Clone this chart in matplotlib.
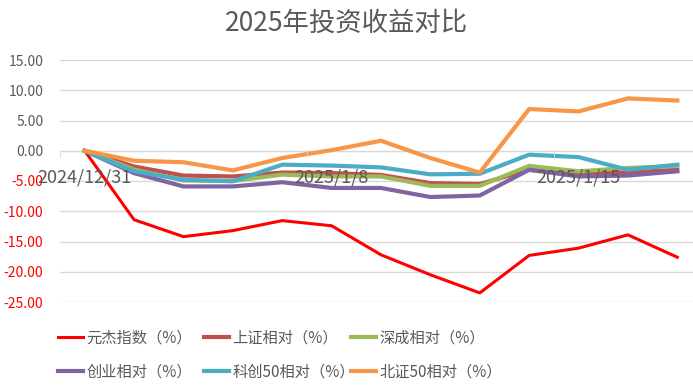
import numpy as np
import matplotlib
matplotlib.use("Agg")
import matplotlib.pyplot as plt

plt.rcParams['font.family'] = ['Noto Sans CJK SC', 'DejaVu Sans']

dates = ['2024/12/31', '2025/1/2', '2025/1/3', '2025/1/6', '2025/1/7', '2025/1/8', '2025/1/9',
         '2025/1/10', '2025/1/13', '2025/1/14', '2025/1/15', '2025/1/16', '2025/1/17']

yuanjie = [0, -11.4, -14.2, -13.2, -11.55, -12.4, -17.2, -20.5, -23.5, -17.3, -16.1, -13.9, -17.6]
shangzheng = [0, -2.6, -4.1, -4.25, -3.6, -3.7, -4.0, -5.35, -5.5, -3.15, -3.8, -3.6, -3.15]
shencheng = [0, -3.1, -4.9, -5.0, -3.95, -4.25, -4.25, -5.8, -5.8, -2.5, -3.4, -2.85, -2.5]
chuangye = [0, -3.7, -5.9, -5.9, -5.2, -6.15, -6.15, -7.65, -7.4, -3.15, -4.25, -4.1, -3.4]
kechuang50 = [0, -3.4, -4.8, -5.05, -2.3, -2.45, -2.75, -3.9, -3.8, -0.65, -1.05, -3.15, -2.3]
beizheng50 = [0, -1.65, -1.9, -3.25, -1.2, 0.1, 1.65, -1.2, -3.6, 6.9, 6.5, 8.65, 8.3]

names = ['元杰指数（%）', '上证相对（%）', '深成相对（%）', '创业相对（%）', '科创50相对（%）', '北证50相对（%）']
series = [yuanjie, shangzheng, shencheng, chuangye, kechuang50, beizheng50]
colors = ['#FF0000', '#C0504D', '#9BBB59', '#8064A2', '#4BACC6', '#F79646']
widths = [2.2, 3.0, 3.0, 3.0, 3.0, 3.0]

gray = '#595959'
grid = '#D9D9D9'

fig = plt.figure(figsize=(6.93, 3.92), dpi=100)
ax = fig.add_axes([60 / 693, 1 - 302 / 392, 642 / 693, 242 / 392])

x = np.arange(len(dates))
lines = []
for s, c, w, n in zip(series, colors, widths, names):
    ln, = ax.plot(x, s, color=c, lw=w, label=n, solid_joinstyle='round')
    lines.append(ln)

ax.set_xlim(-0.5, len(dates) - 0.5)
ax.set_ylim(-25, 15)
yt = np.arange(-25, 16, 5)
ax.set_yticks(yt)
ax.set_yticklabels(['%.2f' % v for v in yt], fontsize=10)
for lab, v in zip(ax.get_yticklabels(), yt):
    lab.set_color('#FF0000' if v < 0 else gray)
ax.tick_params(axis='y', length=0, pad=12)
ax.yaxis.grid(True, color=grid, lw=1)
ax.set_axisbelow(True)
ax.xaxis.set_zorder(5)  # date labels sit on top of the lines like in excel

for sp in ['top', 'right', 'left']:
    ax.spines[sp].set_visible(False)
ax.spines['bottom'].set_position(('data', 0))
ax.spines['bottom'].set_color(grid)
ax.spines['bottom'].set_zorder(0.5)

ax.set_xticks([0, 5, 10])
ax.set_xticklabels([dates[0], dates[5], dates[10]], fontsize=13, color=gray)
ax.tick_params(axis='x', length=0, pad=13)
ax.set_xticks([-0.5, 4.5, 9.5], minor=True)
ax.tick_params(axis='x', which='minor', length=4, color=grid)

fig.text(0.5, 1 - 23 / 392, '2025年投资收益对比', ha='center', va='center', fontsize=19, color=gray)

xs = [58, 204, 351]
for k in range(3):
    leg = fig.legend([lines[k], lines[k + 3]], [names[k], names[k + 3]],
                     loc='upper left', bbox_to_anchor=(xs[k] / 693 - 0.02, 1 - 316 / 392),
                     frameon=False, fontsize=11, handlelength=1.65, handletextpad=0.2,
                     labelspacing=1.1, labelcolor=gray)

fig.savefig('out.png', dpi=100)
